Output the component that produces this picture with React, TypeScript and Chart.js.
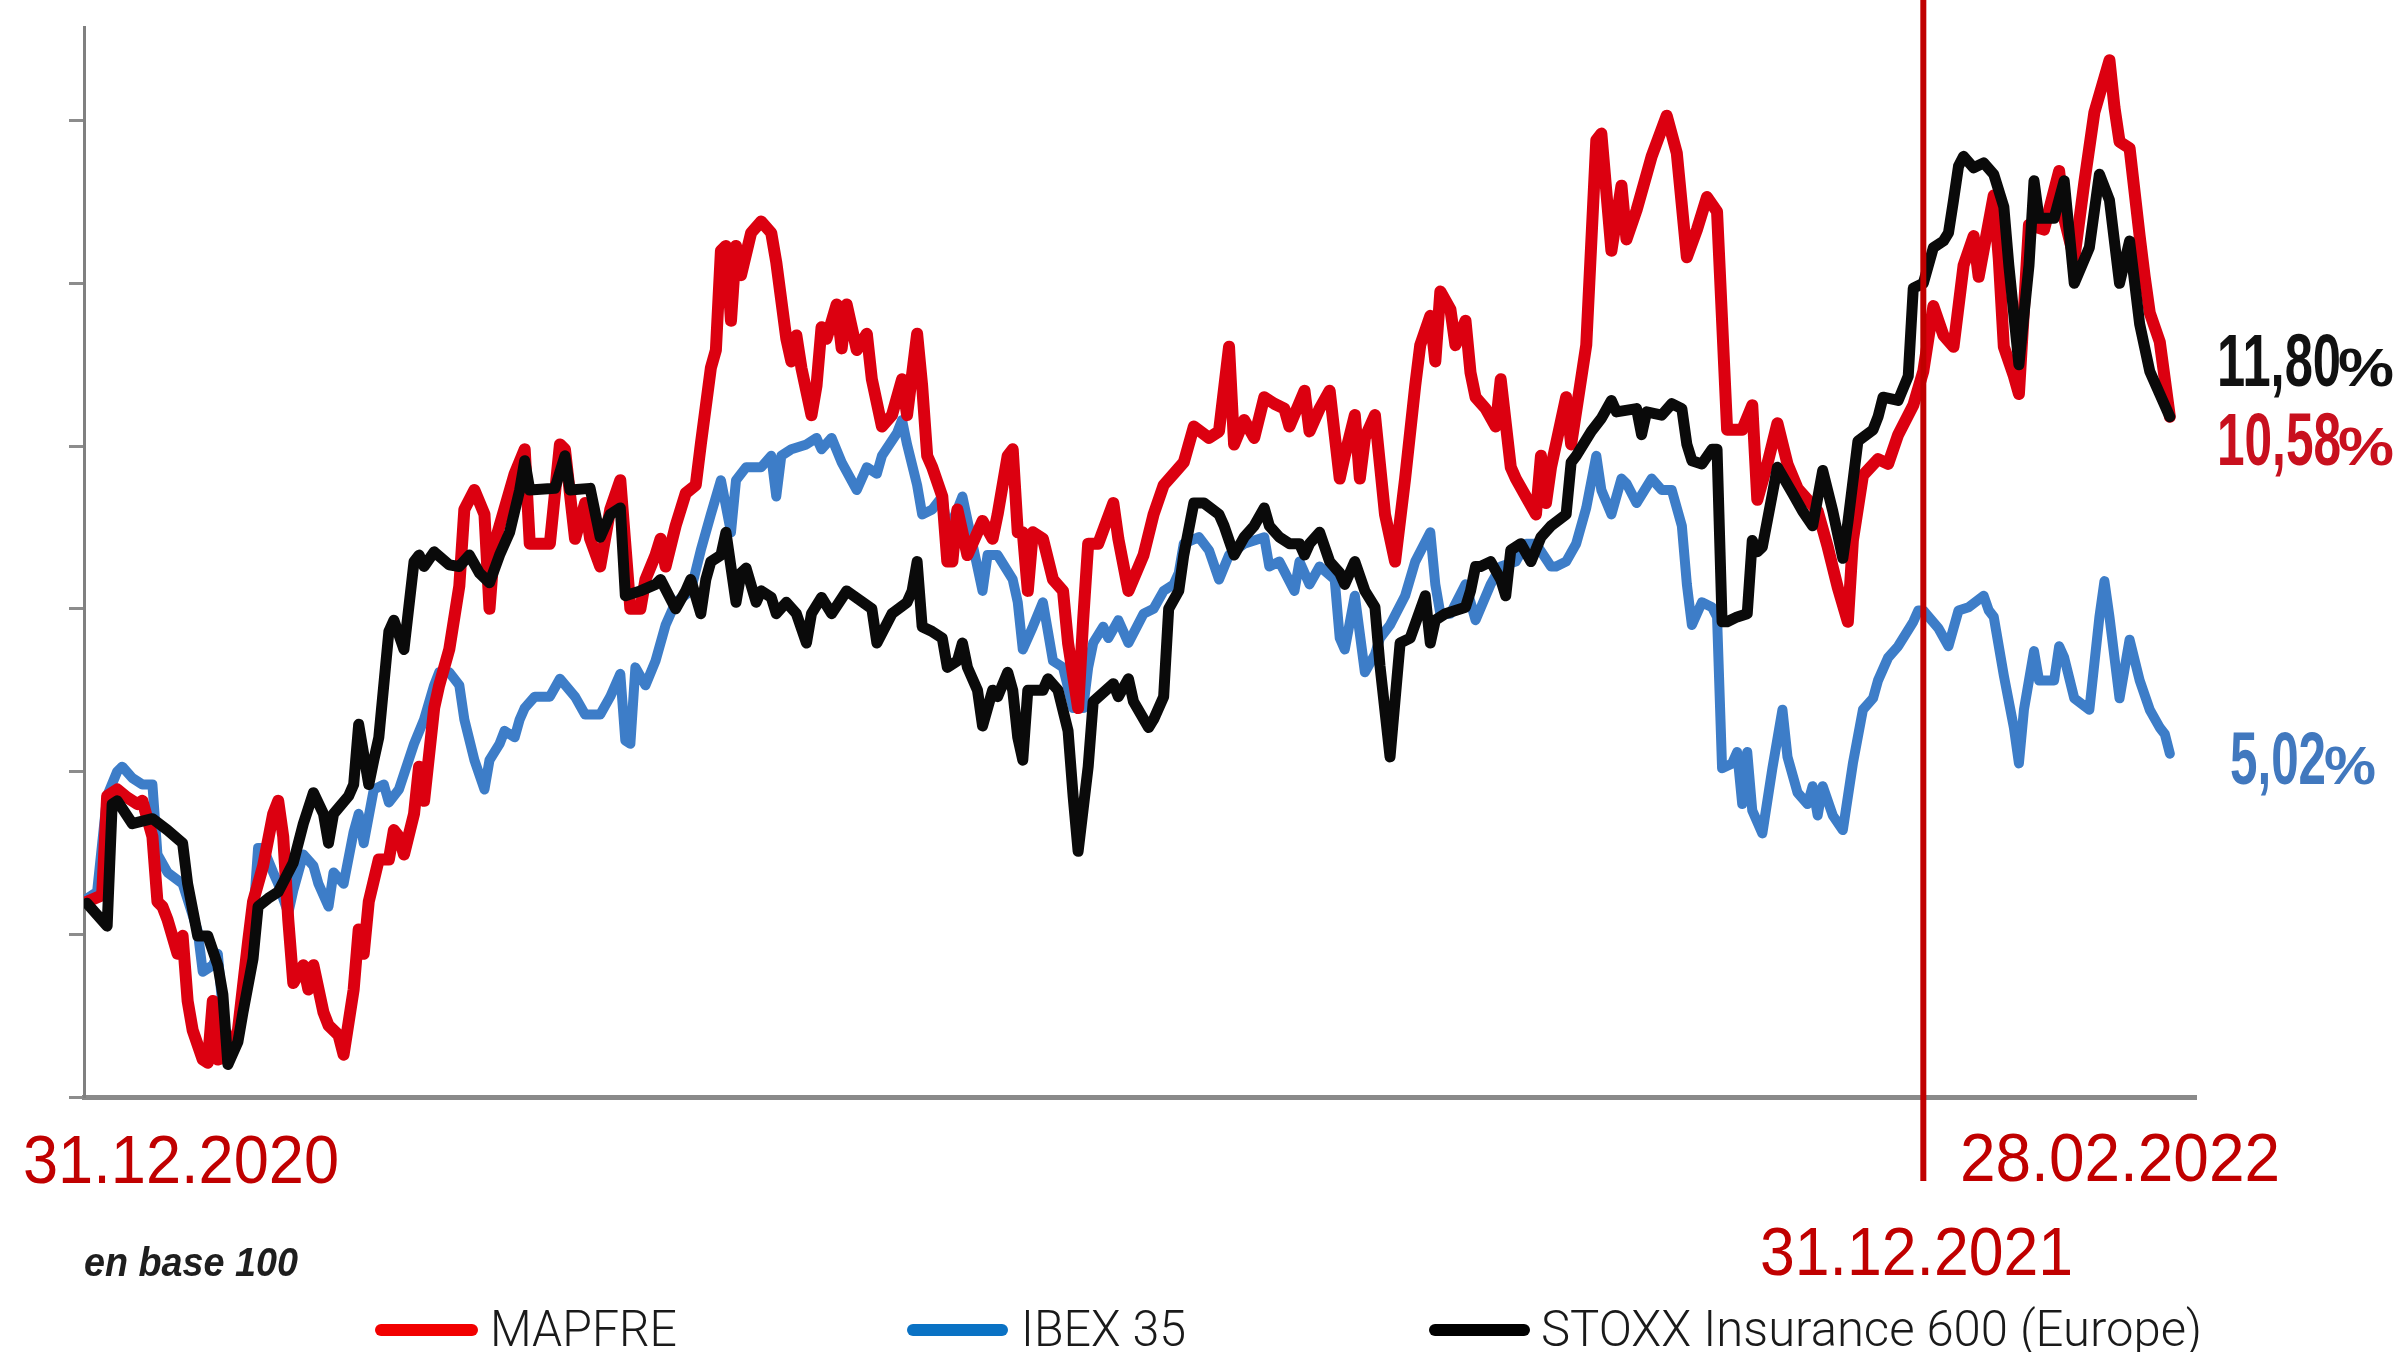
import React, { useEffect, useRef } from 'react';
import { Chart, registerables } from 'chart.js';

Chart.register(...registerables);

// ---------------- data ----------------
const seriesNames = ['MAPFRE', 'IBEX 35', 'STOXX Insurance 600 (Europe)'];
const dateLabels = ['31.12.2020', '28.02.2022', '31.12.2021'];
const baseNote = 'en base 100';
const yearEndDay = 365; // 31.12.2021, days since 31.12.2020
const yTickValues = [80, 90, 100, 110, 120, 130, 140];
const endLabelNumbers = ['11,80', '10,58', '5,02'];

// [calendar day since 31.12.2020, index value]
const mapfre: [number, number][] = [
  [0, 92.0], [3, 92.4], [4, 98.5], [6, 98.9], [8, 98.4], [10, 98.0], [11, 98.2], [13, 96.0], [14, 92.0], [15, 91.7],
  [16, 90.9], [18, 88.8], [19, 89.9], [20, 85.9], [21, 84.1], [23, 82.3], [24, 82.1], [25, 85.9], [26, 82.3], [28, 82.5],
  [30, 84.1], [32, 89.5], [33, 92.0], [35, 94.2], [37, 97.4], [38, 98.2], [39, 96.0], [40, 90.9], [41, 87.0], [43, 88.1],
  [44, 86.6], [45, 88.1], [47, 85.2], [48, 84.4], [50, 83.8], [51, 82.6], [53, 86.6], [54, 90.3], [55, 88.8], [56, 92.0],
  [58, 94.6], [60, 94.6], [61, 96.4], [62, 96.0], [63, 94.9], [65, 97.4], [66, 100.3], [67, 98.2], [69, 103.9], [70, 105.3],
  [72, 107.5], [74, 111.4], [75, 116.1], [77, 117.3], [79, 115.8], [80, 110.0], [81, 114.0], [82, 115.1], [85, 118.3], [87, 119.8],
  [88, 114.0], [92, 114.0], [94, 120.1], [95, 119.8], [97, 114.3], [99, 116.5], [100, 114.3], [102, 112.6], [104, 116.1], [106, 117.9],
  [108, 110.0], [110, 110.0], [111, 111.8], [113, 113.3], [114, 114.3], [115, 112.6], [117, 115.1], [118, 116.1], [119, 117.1], [121, 117.6],
  [122, 120.1], [124, 124.8], [125, 125.9], [126, 132.0], [127, 132.3], [128, 127.7], [129, 132.3], [130, 130.5], [132, 133.1], [134, 133.8],
  [136, 133.1], [137, 131.3], [139, 126.6], [140, 125.2], [141, 126.8], [142, 124.8], [144, 121.9], [145, 123.7], [146, 127.3], [147, 126.6],
  [149, 128.7], [150, 126.0], [151, 128.7], [153, 125.9], [155, 126.9], [156, 124.1], [158, 121.2], [160, 121.9], [162, 124.1], [163, 121.9],
  [165, 126.9], [166, 123.7], [167, 119.4], [168, 118.7], [170, 116.9], [171, 112.9], [172, 112.9], [173, 116.1], [175, 113.3], [177, 114.7],
  [178, 115.4], [180, 114.3], [181, 115.8], [183, 119.4], [184, 119.8], [185, 114.7], [186, 114.7], [187, 111.1], [188, 114.7], [190, 114.3],
  [192, 111.8], [194, 111.1], [195, 107.9], [197, 103.9], [198, 109.3], [199, 114.0], [201, 114.0], [204, 116.5], [205, 114.3], [207, 111.1],
  [210, 113.3], [212, 115.8], [214, 117.6], [216, 118.3], [218, 119.0], [220, 121.2], [223, 120.5], [225, 120.9], [227, 126.1], [228, 120.1],
  [230, 121.6], [232, 120.5], [234, 123.0], [236, 122.6], [238, 122.3], [239, 121.2], [242, 123.4], [243, 120.9], [245, 122.3], [247, 123.4],
  [249, 118.0], [250, 119.4], [252, 121.9], [253, 118.0], [254, 120.5], [256, 121.9], [258, 115.8], [260, 112.9], [262, 118.0], [264, 123.7],
  [265, 126.2], [267, 128.0], [268, 125.2], [269, 129.5], [271, 128.4], [272, 126.2], [274, 127.7], [275, 124.5], [276, 123.0], [278, 122.3],
  [280, 121.2], [281, 124.1], [283, 118.7], [284, 118.0], [286, 116.9], [288, 115.8], [289, 119.4], [290, 116.5], [291, 118.7], [294, 123.0],
  [295, 120.1], [298, 126.2], [300, 138.8], [301, 139.2], [303, 132.0], [305, 136.0], [306, 132.7], [308, 134.5], [310, 136.7], [311, 137.8],
  [314, 140.3], [316, 138.0], [318, 131.6], [320, 133.3], [322, 135.3], [324, 134.4], [326, 121.0], [329, 121.0], [331, 122.5], [332, 116.7],
  [334, 118.9], [336, 121.4], [338, 118.9], [340, 117.4], [342, 116.7], [344, 116.0], [346, 113.8], [348, 111.3], [350, 109.2], [351, 114.2],
  [353, 118.2], [356, 119.2], [358, 118.9], [360, 120.7], [363, 122.5], [365, 124.6], [367, 128.6], [369, 126.8], [371, 126.1], [373, 131.1],
  [375, 132.9], [376, 130.4], [379, 135.4], [380, 131.5], [381, 126.1], [383, 124.3], [384, 123.2], [386, 133.6], [389, 133.3], [392, 136.9],
  [393, 134.0], [395, 131.5], [397, 136.2], [399, 140.5], [402, 143.7], [403, 140.8], [404, 138.7], [406, 138.3], [408, 132.9], [409, 130.4],
  [410, 128.2], [412, 126.4], [414, 121.8],
];

const ibex: [number, number][] = [
  [0, 92.2], [2, 92.6], [4, 98.5], [6, 100.0], [7, 100.3], [9, 99.6], [11, 99.2], [13, 99.2], [14, 94.9], [16, 93.8],
  [19, 93.1], [22, 90.2], [23, 87.7], [25, 88.1], [26, 88.8], [27, 85.2], [28, 83.0], [30, 84.1], [31, 86.6], [33, 90.9],
  [34, 95.3], [35, 95.3], [37, 93.8], [38, 93.1], [40, 91.3], [41, 92.7], [43, 94.9], [45, 94.2], [46, 93.1], [48, 91.7],
  [49, 93.8], [51, 93.1], [53, 96.3], [54, 97.4], [55, 95.6], [57, 98.9], [59, 99.2], [60, 98.1], [62, 98.9], [65, 101.7],
  [67, 103.2], [69, 105.3], [70, 106.1], [72, 106.1], [74, 105.3], [75, 103.2], [77, 100.7], [79, 98.9], [80, 100.7], [82, 101.7],
  [83, 102.5], [85, 102.1], [86, 103.2], [87, 103.9], [89, 104.6], [92, 104.6], [94, 105.7], [97, 104.6], [99, 103.5], [102, 103.5],
  [104, 104.6], [106, 106.0], [107, 101.9], [108, 101.7], [109, 106.4], [111, 105.3], [113, 106.8], [115, 109.0], [117, 110.4], [120, 111.1],
  [122, 113.6], [124, 115.8], [126, 117.9], [128, 114.7], [129, 117.9], [131, 118.7], [134, 118.7], [136, 119.4], [137, 116.9], [138, 119.4],
  [140, 119.8], [143, 120.1], [145, 120.5], [146, 119.8], [148, 120.5], [150, 119.0], [153, 117.3], [155, 118.7], [157, 118.3], [158, 119.4],
  [161, 120.8], [162, 121.6], [163, 120.1], [165, 117.6], [166, 115.8], [168, 116.1], [170, 116.9], [171, 114.7], [173, 116.1], [174, 116.9],
  [176, 114.0], [178, 111.1], [179, 113.3], [181, 113.3], [184, 111.8], [185, 110.4], [186, 107.5], [188, 108.9], [190, 110.4], [192, 106.8],
  [194, 106.4], [196, 103.9], [198, 103.9], [199, 106.4], [200, 107.9], [202, 108.9], [203, 108.2], [205, 109.3], [207, 107.9], [210, 109.7],
  [212, 110.0], [214, 111.1], [216, 111.5], [217, 112.2], [218, 114.0], [221, 114.4], [223, 113.6], [225, 111.8], [227, 113.3], [230, 114.0],
  [234, 114.4], [235, 112.6], [237, 112.9], [240, 111.1], [241, 112.9], [243, 111.5], [245, 112.6], [248, 111.8], [249, 108.2], [250, 107.5],
  [252, 110.8], [254, 106.1], [256, 107.2], [257, 108.2], [259, 109.0], [262, 110.8], [264, 112.9], [267, 114.7], [268, 111.5], [269, 109.7],
  [271, 109.7], [274, 111.5], [276, 109.3], [279, 111.5], [281, 112.6], [284, 112.9], [286, 114.0], [288, 114.0], [291, 112.6], [292, 112.6],
  [294, 112.9], [296, 114.0], [298, 116.2], [300, 119.4], [301, 117.3], [303, 115.8], [305, 118.0], [306, 117.7], [308, 116.5], [311, 118.0],
  [313, 117.3], [315, 117.3], [317, 115.1], [318, 111.5], [319, 109.0], [321, 110.4], [323, 110.1], [324, 109.5], [325, 100.2], [327, 100.5],
  [328, 101.2], [329, 98.0], [330, 101.2], [331, 97.6], [333, 96.2], [335, 100.2], [337, 103.8], [338, 100.9], [340, 98.7], [342, 98.0],
  [343, 99.1], [344, 97.3], [345, 99.1], [347, 97.3], [349, 96.4], [351, 100.5], [353, 103.8], [355, 104.5], [356, 105.6], [358, 107.0],
  [360, 107.7], [363, 109.2], [364, 109.9], [365, 109.9], [368, 108.8], [370, 107.7], [372, 109.9], [374, 110.1], [377, 110.8], [378, 109.9],
  [379, 109.5], [381, 105.9], [383, 102.7], [384, 100.5], [385, 103.8], [387, 107.4], [388, 105.6], [391, 105.6], [392, 107.7], [393, 107.0],
  [395, 104.5], [398, 103.8], [400, 109.5], [401, 111.7], [402, 109.5], [404, 104.5], [406, 108.1], [408, 105.6], [410, 103.8], [412, 102.7],
  [413, 102.3], [414, 101.1],
];

const stoxx: [number, number][] = [
  [0, 91.9], [4, 90.5], [5, 98.0], [6, 98.2], [9, 96.8], [13, 97.1], [16, 96.4], [19, 95.6], [20, 93.1], [22, 89.9],
  [24, 89.9], [26, 88.1], [27, 86.3], [28, 82.0], [30, 83.4], [31, 85.2], [33, 88.5], [34, 91.7], [36, 92.2], [38, 92.6],
  [40, 93.8], [41, 94.4], [43, 96.8], [45, 98.7], [47, 97.4], [48, 95.6], [49, 97.4], [52, 98.5], [53, 99.2], [54, 102.9],
  [56, 99.2], [57, 100.7], [58, 102.1], [60, 108.6], [61, 109.3], [63, 107.5], [65, 112.9], [66, 113.3], [67, 112.6], [69, 113.5],
  [72, 112.7], [74, 112.6], [76, 113.3], [78, 112.2], [80, 111.6], [82, 113.3], [84, 114.7], [86, 117.3], [87, 119.1], [88, 117.3],
  [93, 117.4], [95, 119.4], [96, 117.3], [100, 117.4], [102, 114.4], [104, 115.8], [106, 116.2], [107, 110.8], [110, 111.1], [113, 111.5],
  [114, 111.8], [117, 110.0], [119, 111.1], [120, 111.8], [122, 109.7], [123, 111.8], [124, 112.9], [126, 113.3], [127, 114.7], [129, 110.4],
  [130, 112.2], [131, 112.5], [133, 110.4], [134, 111.1], [136, 110.7], [137, 109.7], [139, 110.4], [141, 109.7], [143, 107.9], [144, 109.7],
  [146, 110.7], [148, 109.7], [151, 111.1], [156, 110.0], [157, 107.9], [160, 109.7], [163, 110.4], [164, 111.1], [165, 112.9], [166, 108.9],
  [168, 108.6], [170, 108.2], [171, 106.4], [173, 106.8], [174, 107.9], [175, 106.4], [177, 105.0], [178, 102.8], [180, 105.0], [181, 104.6],
  [183, 106.1], [184, 105.0], [185, 102.1], [186, 100.7], [187, 105.0], [190, 105.0], [191, 105.7], [193, 105.0], [195, 102.5], [196, 98.5],
  [197, 95.1], [199, 100.3], [200, 104.3], [204, 105.4], [205, 104.6], [207, 105.7], [208, 104.3], [211, 102.7], [212, 103.2], [214, 104.6],
  [215, 110.0], [217, 111.1], [218, 113.3], [220, 116.5], [222, 116.5], [225, 115.8], [226, 115.1], [228, 113.3], [230, 114.4], [232, 115.1],
  [234, 116.2], [235, 115.1], [237, 114.4], [239, 114.0], [241, 114.0], [242, 113.3], [243, 114.0], [245, 114.7], [247, 112.9], [249, 112.2],
  [250, 111.5], [252, 112.9], [254, 111.1], [256, 110.1], [257, 106.5], [259, 100.9], [261, 107.9], [263, 108.2], [266, 110.8], [267, 107.9],
  [268, 109.3], [270, 109.7], [274, 110.1], [275, 111.1], [276, 112.6], [277, 112.6], [279, 112.9], [281, 111.8], [282, 110.8], [283, 113.6],
  [285, 114.0], [287, 112.9], [289, 114.4], [291, 115.1], [294, 115.8], [295, 119.0], [296, 119.4], [299, 120.9], [301, 121.7], [303, 122.8],
  [304, 122.1], [308, 122.3], [309, 120.7], [310, 122.1], [313, 121.9], [315, 122.6], [317, 122.3], [318, 120.1], [319, 119.1], [321, 118.9],
  [323, 119.8], [324, 119.8], [325, 109.2], [326, 109.2], [328, 109.5], [330, 109.7], [331, 114.2], [332, 113.5], [333, 113.8], [336, 118.7],
  [339, 117.1], [341, 116.0], [343, 115.1], [345, 118.5], [347, 116.0], [349, 113.1], [350, 115.3], [352, 120.3], [355, 121.0], [356, 121.8],
  [357, 123.0], [360, 122.8], [362, 124.3], [363, 129.7], [365, 130.0], [367, 132.2], [369, 132.6], [370, 133.1], [371, 135.1], [372, 137.2],
  [373, 137.8], [375, 137.1], [377, 137.4], [379, 136.7], [381, 134.7], [382, 131.1], [384, 125.0], [386, 131.1], [387, 136.3], [388, 134.0],
  [391, 134.0], [393, 136.3], [395, 130.0], [398, 132.2], [400, 136.7], [402, 135.1], [404, 130.0], [406, 132.6], [408, 127.5], [410, 124.6],
  [414, 121.8],
];

// ---------------- styling ----------------
const LINE_COLORS = { mapfre: '#dc0010', ibex: '#3d7dc8', stoxx: '#0a0a0a' };
const LEGEND_COLORS = ['#f20000', '#0a72c4', '#000000'];
const DATE_RED = '#c00000';

function drawFitted(
  ctx: CanvasRenderingContext2D,
  text: string,
  x: number,
  y: number,
  font: string,
  color: string,
  width: number
) {
  ctx.save();
  ctx.font = font;
  ctx.fillStyle = color;
  ctx.textAlign = 'left';
  ctx.textBaseline = 'alphabetic';
  const w = ctx.measureText(text).width || 1;
  ctx.translate(x, y);
  ctx.scale(width / w, 1);
  ctx.fillText(text, 0, 0);
  ctx.restore();
}

const annotationPlugin = {
  id: 'annotations',
  afterDatasetsDraw(chart: any) {
    const ctx: CanvasRenderingContext2D = chart.ctx;
    const xs = chart.scales.x;
    const vx = xs.getPixelForValue(yearEndDay);
    ctx.save();
    ctx.strokeStyle = DATE_RED;
    ctx.lineWidth = 6;
    ctx.beginPath();
    ctx.moveTo(vx, 0);
    ctx.lineTo(vx, 1181);
    ctx.stroke();
    ctx.restore();
  },
  afterDraw(chart: any) {
    const ctx: CanvasRenderingContext2D = chart.ctx;
    const dateFont = '68px "Liberation Sans", Arial, sans-serif';
    drawFitted(ctx, dateLabels[0], 23, 1183, dateFont, DATE_RED, 316);
    drawFitted(ctx, dateLabels[1], 1960, 1181, dateFont, DATE_RED, 320);
    drawFitted(ctx, dateLabels[2], 1760, 1275, dateFont, DATE_RED, 313);

    drawFitted(ctx, baseNote, 84, 1276, 'italic bold 41px "Liberation Sans Narrow", "Liberation Sans", sans-serif', '#1e1e1e', 214);

    // end-of-series percentages
    const numFont = 'bold 74px "Liberation Sans Narrow", "Liberation Sans", sans-serif';
    const pctFont = 'bold 54px "Liberation Sans Narrow", "Liberation Sans", sans-serif';
    const ends = [
      { t: endLabelNumbers[0], x: 2217, y: 386, w: 124, px: 2338, pw: 56, c: '#111111' },
      { t: endLabelNumbers[1], x: 2217, y: 465, w: 124, px: 2338, pw: 56, c: '#c8101e' },
      { t: endLabelNumbers[2], x: 2230, y: 784, w: 96, px: 2324, pw: 52, c: '#4178be' },
    ];
    ends.forEach((e) => {
      drawFitted(ctx, e.t, e.x, e.y, numFont, e.c, e.w);
      drawFitted(ctx, '%', e.px, e.y, pctFont, e.c, e.pw);
    });

    // legend
    const legend = [
      { x1: 381, x2: 472, tx: 490, tw: 187 },
      { x1: 913, x2: 1002, tx: 1021, tw: 165 },
      { x1: 1435, x2: 1524, tx: 1541, tw: 661 },
    ];
    legend.forEach((l, i) => {
      ctx.save();
      ctx.strokeStyle = LEGEND_COLORS[i];
      ctx.lineWidth = 12;
      ctx.lineCap = 'round';
      ctx.beginPath();
      ctx.moveTo(l.x1, 1330);
      ctx.lineTo(l.x2, 1330);
      ctx.stroke();
      ctx.restore();
      drawFitted(ctx, seriesNames[i], l.tx, 1346, '300 50px Roboto, "Liberation Sans Narrow", sans-serif', '#1a1a1a', l.tw);
    });
  },
};

export default function App() {
  const canvasRef = useRef<HTMLCanvasElement | null>(null);

  useEffect(() => {
    if (!canvasRef.current) return;
    const toPoints = (arr: [number, number][]) => arr.map(([x, y]) => ({ x, y }));
    const common = {
      pointRadius: 0,
      pointHoverRadius: 0,
      tension: 0,
      fill: false,
      borderJoinStyle: 'round' as const,
      borderCapStyle: 'round' as const,
    };
    const chart = new Chart(canvasRef.current, {
      type: 'line',
      data: {
        datasets: [
          { ...common, label: seriesNames[2], data: toPoints(stoxx), borderColor: LINE_COLORS.stoxx, borderWidth: 11, order: 0 },
          { ...common, label: seriesNames[0], data: toPoints(mapfre), borderColor: LINE_COLORS.mapfre, borderWidth: 12, order: 1 },
          { ...common, label: seriesNames[1], data: toPoints(ibex), borderColor: LINE_COLORS.ibex, borderWidth: 10, order: 2 },
        ],
      },
      options: {
        animation: false,
        responsive: true,
        maintainAspectRatio: false,
        events: [],
        layout: { padding: { left: 69, right: 207, top: 27, bottom: 255 } },
        plugins: {
          legend: { display: false },
          tooltip: { enabled: false },
          title: { display: false },
        },
        scales: {
          x: {
            type: 'linear',
            min: -0.6,
            max: 419.2,
            ticks: { display: false },
            grid: { display: false, drawTicks: false },
            border: { display: true, color: '#8a8a8a', width: 5 },
          },
          y: {
            type: 'linear',
            min: 80,
            max: 145.75,
            afterBuildTicks: (scale: any) => {
              scale.ticks = yTickValues.map((v) => ({ value: v }));
            },
            ticks: { display: false },
            grid: {
              drawOnChartArea: false,
              drawTicks: true,
              tickLength: 15,
              tickWidth: 3,
              tickColor: '#8c8c8c',
            },
            border: { display: true, color: '#808080', width: 3 },
          },
        },
      },
      plugins: [annotationPlugin],
    });
    return () => chart.destroy();
  }, []);

  return (
    <div style={{ position: 'absolute', left: 0, top: 0, width: 2403, height: 1352, background: '#ffffff' }}>
      <canvas ref={canvasRef} />
    </div>
  );
}
